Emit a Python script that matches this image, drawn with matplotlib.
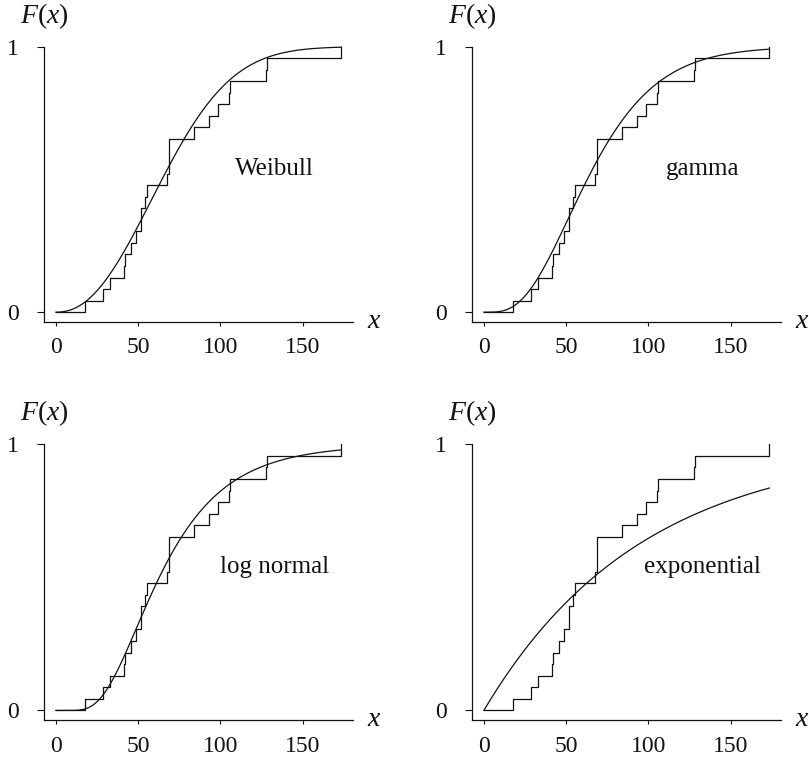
import math
import numpy as np
import matplotlib
matplotlib.use("Agg")
import matplotlib.pyplot as plt

plt.rcParams['font.family'] = ['Liberation Serif', 'DejaVu Serif']
plt.rcParams['mathtext.fontset'] = 'custom'
plt.rcParams['mathtext.rm'] = 'Liberation Serif'
plt.rcParams['mathtext.it'] = 'Liberation Serif:italic'

# Observed failure times (ECDF data)
failure_times = [17.88, 28.92, 33.00, 41.52, 42.12, 45.60, 48.48, 51.84, 51.96,
                 54.12, 55.56, 67.80, 68.64, 68.64, 68.88, 84.12, 93.12, 98.64,
                 105.12, 105.84, 127.92, 128.04, 173.40]

# Fitted distribution parameters
weibull_shape, weibull_scale = 2.225, 76.0
gamma_shape, gamma_scale = 4.0, 17.1
lognorm_mu, lognorm_sigma = 4.14, 0.50
expon_mean = 96.0

panel_names = ["Weibull", "gamma", "log normal", "exponential"]
x_ticks = [0, 50, 100, 150]
y_ticks = [0, 1]


def gammainc_lower(a, x):
    if x <= 0:
        return 0.0
    term = 1.0 / a
    total = term
    n = 1
    while n < 500:
        term *= x / (a + n)
        total += term
        if term < 1e-14 * total:
            break
        n += 1
    return total * math.exp(-x + a * math.log(x) - math.lgamma(a))


def cdf(name, x):
    x = np.asarray(x, dtype=float)
    if name == "Weibull":
        return 1 - np.exp(-(x / weibull_scale) ** weibull_shape)
    if name == "gamma":
        return np.array([gammainc_lower(gamma_shape, v / gamma_scale) for v in x])
    if name == "log normal":
        out = np.zeros_like(x)
        pos = x > 0
        out[pos] = [0.5 * (1 + math.erf((math.log(v) - lognorm_mu) / (lognorm_sigma * math.sqrt(2)))) for v in x[pos]]
        return out
    return 1 - np.exp(-x / expon_mean)


n = len(failure_times)
step_x = [0.0] + list(failure_times)
step_y = [0.0] + [(i + 1) / n for i in range(n)]
xs = np.linspace(0, failure_times[-1], 400)

W, H = 809, 763
fig = plt.figure(figsize=(W / 100, H / 100), dpi=100)

cols = [44, 472]
rows = [(46.7, 322.0), (444.3, 720.3)]
lc = '#111111'

for idx, name in enumerate(panel_names):
    r, c = divmod(idx, 2)
    top, bot = rows[r]
    ax = fig.add_axes([cols[c] / W, 1 - bot / H, 309 / W, (bot - top) / H])
    ax.set_xlim(-7.2, 180.5)
    ax.set_ylim(-0.037, 1.0)
    ax.step(step_x, step_y, where='post', color=lc, lw=0.9, clip_on=False)
    ax.plot(xs, cdf(name, xs), color=lc, lw=0.9, clip_on=False)
    for s in ['top', 'right']:
        ax.spines[s].set_visible(False)
    for s in ['left', 'bottom']:
        ax.spines[s].set_linewidth(0.9)
        ax.spines[s].set_color(lc)
    ax.set_xticks(x_ticks)
    ax.set_yticks(y_ticks)
    ax.tick_params(axis='y', direction='out', length=5, width=0.8, pad=13, labelsize=17, colors=lc)
    ax.tick_params(axis='x', direction='out', length=3, width=0.8, pad=8, labelsize=17, colors=lc)
    ax.text(133, 0.517, name, ha='center', va='baseline', fontsize=18, color=lc)
    ax.text(1.065, -0.022, 'x', transform=ax.transAxes, ha='center', va='baseline',
            fontsize=20, style='italic', color=lc)
    ax.text(0.0, 1.086, r'$F(x)$', transform=ax.transAxes, ha='center', va='baseline',
            fontsize=20, color=lc)

fig.savefig("out.png", dpi=100)
